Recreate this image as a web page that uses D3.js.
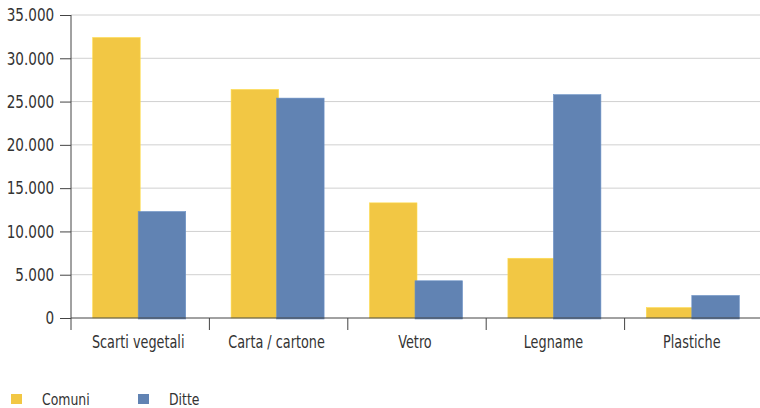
<!DOCTYPE html>
<html>
<head>
<meta charset="utf-8">
<script src="https://cdn.jsdelivr.net/npm/d3@7"></script>
<style>
  body { margin: 0; background: #fff; }
  svg text { font-family: "DejaVu Sans Condensed", "Liberation Sans Narrow", sans-serif; fill: #333; }
</style>
</head>
<body>
<script>
// categorie e serie
var categories = ["Scarti vegetali", "Carta / cartone", "Vetro", "Legname", "Plastiche"];
var seriesNames = ["Comuni", "Ditte"];
var comuni = [32400, 26400, 13300, 6900, 1200];
var ditte = [12300, 25400, 4300, 25800, 2600];
var yTicks = [0, 5000, 10000, 15000, 20000, 25000, 30000, 35000];

const col = { Comuni: "#f2c744", Ditte: "#6183b3" };
const narrow = 0.84;   // il font originale e' piu' stretto

var width = 760, height = 408;
var margin = { top: 15, right: -3, bottom: 90, left: 71 };

var svg = d3.select("body").append("svg")
    .attr("width", width)
    .attr("height", height);

var x = d3.scaleBand()
    .domain(categories)
    .range([margin.left, width - margin.right]);

var y = d3.scaleLinear()
    .domain([0, 35000])
    .range([height - margin.bottom, margin.top]);

var fmt = d3.formatLocale({ decimal: ",", thousands: ".", grouping: [3], currency: ["", "€"] }).format(",");

// griglia
svg.append("g")
    .selectAll("line")
    .data(yTicks.slice(1))
    .join("line")
        .attr("x1", margin.left)
        .attr("x2", width)
        .attr("y1", d => y(d))
        .attr("y2", d => y(d))
        .attr("stroke", "#d0d0d0")
        .attr("stroke-width", 1);

// barre
var barW = 47.5;
var data = [];
for (i = 0; i < categories.length; ++i) {
    data.push({ cat: categories[i], s: "Comuni", v: comuni[i], k: 0 });
    data.push({ cat: categories[i], s: "Ditte", v: ditte[i], k: 1 });
}

svg.append("g")
    .selectAll("rect")
    .data(data)
    .join("rect")
        .attr("x", d => x(d.cat) + x.bandwidth() / 2 - barW + d.k * (barW - 2))
        .attr("y", d => y(d.v))
        .attr("width", barW)
        .attr("height", d => y(0) - y(d.v) + (d.k ? 1 : 0))
        .attr("fill", d => col[d.s])
        .attr("stroke", d => d3.color(col[d.s]).brighter(0.3))
        .attr("stroke-width", 0.6);

// asse y
var yAxis = svg.append("g")
    .attr("transform", "translate(" + margin.left + ",0)")
    .call(d3.axisLeft(y).tickValues(yTicks).tickFormat(fmt).tickSize(11).tickPadding(9));
yAxis.select(".domain").remove();
yAxis.selectAll(".tick line").attr("stroke", "#444");
yAxis.selectAll(".tick text")
    .attr("font-size", "18px")
    .attr("fill", "#333")
    .attr("transform", "scale(" + narrow + ",1)");
yAxis.append("line")
    .attr("x1", 0).attr("x2", 0)
    .attr("y1", margin.top).attr("y2", y(0) + 12)
    .attr("stroke", "#444");

// asse x
var xAxis = svg.append("g")
    .attr("transform", "translate(0," + y(0) + ")");
xAxis.append("line")
    .attr("x1", margin.left).attr("x2", width)
    .attr("stroke", "#444");
xAxis.selectAll(".sep")
    .data(categories.slice(1))
    .join("line")
        .attr("class", "sep")
        .attr("x1", d => x(d)).attr("x2", d => x(d))
        .attr("y1", 0).attr("y2", 12)
        .attr("stroke", "#444");
xAxis.selectAll(".lab")
    .data(categories)
    .join("text")
        .attr("class", "lab")
        .attr("transform", d => "translate(" + (x(d) + x.bandwidth() / 2 - 2) + ",30) scale(" + narrow + ",1)")
        .attr("text-anchor", "middle")
        .attr("font-size", "17px")
        .text(d => d);

// legenda
var leg = svg.append("g")
    .attr("transform", "translate(11," + 394 + ")");
var li = leg.selectAll("g")
    .data(seriesNames)
    .join("g")
        .attr("transform", (d, i) => "translate(" + (i * 127) + ",0)");
li.append("rect")
    .attr("width", 11).attr("height", 10)
    .attr("fill", d => col[d]);
li.append("text")
    .attr("transform", "translate(31,10.5) scale(" + narrow + ",1)")
    .attr("font-size", "16.5px")
    .text(d => d);
</script>
</body>
</html>
